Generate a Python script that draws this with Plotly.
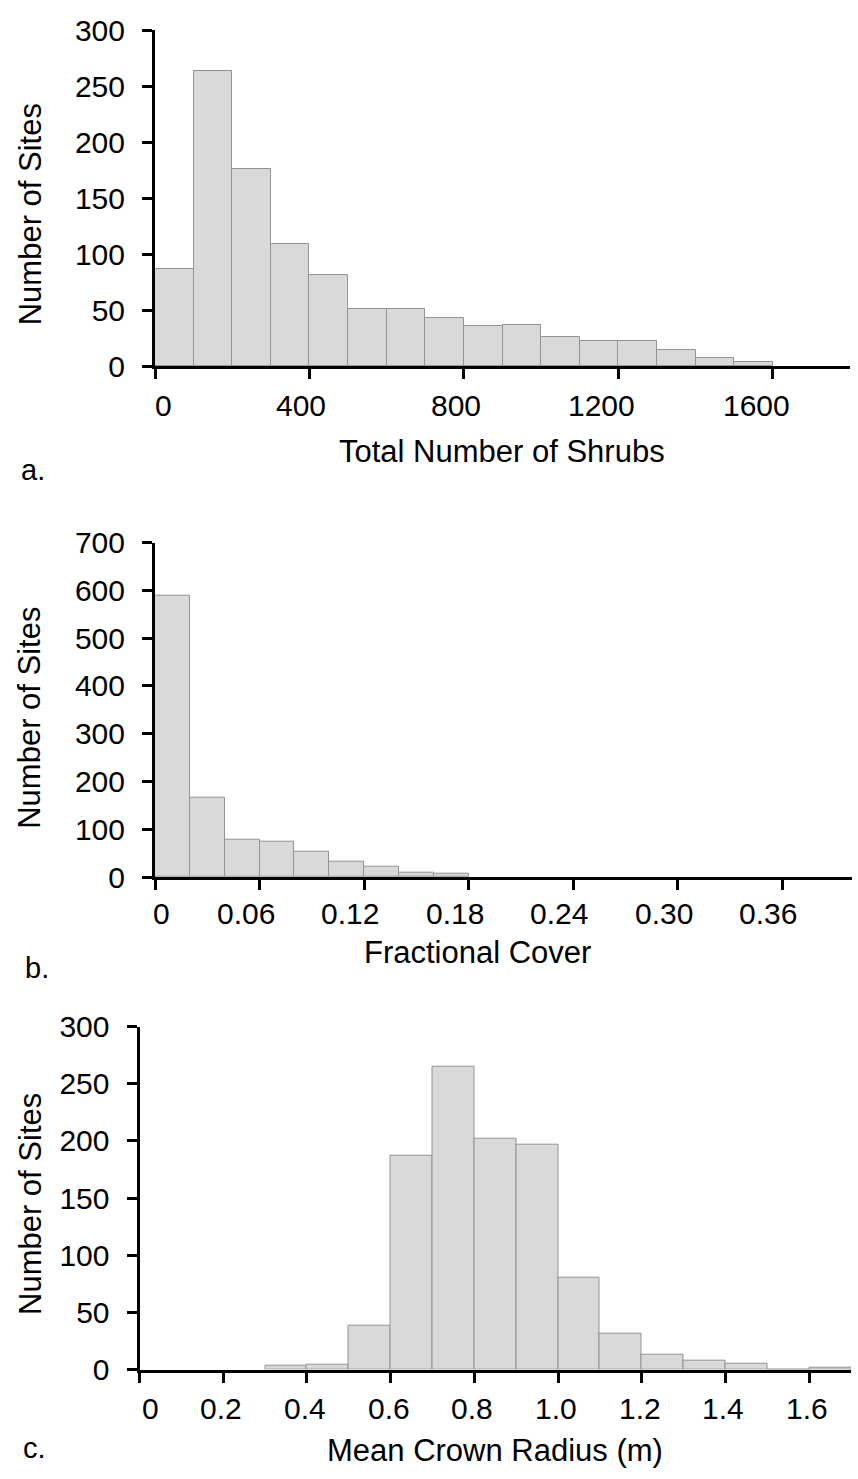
import numpy as np
import plotly.graph_objects as go

W, H = 858, 1479

# ---------------- data ----------------
# a. Total number of shrubs
shrub_bin_left = [0, 100, 200, 300, 400, 500, 600, 700, 800, 900, 1000, 1100, 1200, 1300, 1400, 1500]
shrub_bin_width = 100
shrub_counts = [87, 263, 176, 109, 81, 51, 51, 43, 36, 37, 26, 22, 22, 14, 7, 4]
shrub_ticks = [0, 400, 800, 1200, 1600]
shrub_tick_labels = ["0", "400", "800", "1200", "1600"]
sites_ticks_a = [0, 50, 100, 150, 200, 250, 300]

# b. Fractional cover
cover_bin_left = [0.00, 0.02, 0.04, 0.06, 0.08, 0.10, 0.12, 0.14, 0.16]
cover_bin_width = 0.02
cover_counts = [588, 167, 79, 74, 54, 33, 22, 8, 7]
cover_ticks = [0, 0.06, 0.12, 0.18, 0.24, 0.30, 0.36]
cover_tick_labels = ["0", "0.06", "0.12", "0.18", "0.24", "0.30", "0.36"]
sites_ticks_b = [0, 100, 200, 300, 400, 500, 600, 700]

# c. Mean crown radius
radius_bin_left = [0.3, 0.4, 0.5, 0.6, 0.7, 0.8, 0.9, 1.0, 1.1, 1.2, 1.3, 1.4, 1.5, 1.6]
radius_bin_width = 0.1
radius_counts = [3, 4, 38, 187, 265, 202, 197, 80, 31, 13, 8, 5, 0, 2]
radius_ticks = [0, 0.2, 0.4, 0.6, 0.8, 1.0, 1.2, 1.4, 1.6]
radius_tick_labels = ["0", "0.2", "0.4", "0.6", "0.8", "1.0", "1.2", "1.4", "1.6"]
sites_ticks_c = [0, 50, 100, 150, 200, 250, 300]

x_titles = ["Total Number of Shrubs", "Fractional Cover", "Mean Crown Radius (m)"]
y_title = "Number of Sites"
panel_labels = ["a.", "b.", "c."]

# ---------------- style ----------------
FONT = "Liberation Sans, Arial, sans-serif"
TICK_FS = 30
TITLE_FS = 31
LABEL_FS = 29
BAR_FILL = "#d9d9d9"
BAR_EDGE = "#939393"


def px_x(p):
    return p / W


def px_y(p):
    return 1 - p / H


panels = [
    dict(left=shrub_bin_left, width=shrub_bin_width, counts=shrub_counts,
         xr=[0, 1800], yr=[0, 300], xt=shrub_ticks, xl=shrub_tick_labels, yt=sites_ticks_a,
         dom_x=(155, 850), dom_y=(30, 366), lab_top=387.9, lab_shift=18,
         xt_pos=(501.5, 451.0), yt_pos=(30.3, 214), pl_pos=(33.3, 470)),
    dict(left=cover_bin_left, width=cover_bin_width, counts=cover_counts,
         xr=[0, 0.40], yr=[0, 700], xt=cover_ticks, xl=cover_tick_labels, yt=sites_ticks_b,
         dom_x=(155, 852), dom_y=(542.7, 877), lab_top=896.2, lab_shift=16,
         xt_pos=(477.5, 952.3), yt_pos=(29.3, 717.5), pl_pos=(36.7, 968)),
    dict(left=radius_bin_left, width=radius_bin_width, counts=radius_counts,
         xr=[0, 1.7], yr=[0, 300], xt=radius_ticks, xl=radius_tick_labels, yt=sites_ticks_c,
         dom_x=(139.5, 851), dom_y=(1026.7, 1369.5), lab_top=1391.2, lab_shift=20,
         xt_pos=(495, 1450.7), yt_pos=(30.0, 1204), pl_pos=(34, 1448)),
]

fig = go.Figure()
layout = dict(
    template="none",
    width=W, height=H, margin=dict(l=0, r=0, t=0, b=0, pad=0, autoexpand=False),
    paper_bgcolor="white", plot_bgcolor="white", showlegend=False,
    font=dict(family=FONT, color="black"),
)
annotations = []

for i, p in enumerate(panels, start=1):
    xa = "x" if i == 1 else f"x{i}"
    ya = "y" if i == 1 else f"y{i}"
    centers = np.array(p["left"], dtype=float) + p["width"] / 2
    fig.add_trace(go.Bar(
        x=centers, y=p["counts"], width=p["width"],
        marker=dict(color=BAR_FILL, line=dict(color=BAR_EDGE, width=1)),
        xaxis=xa, yaxis=ya, hoverinfo="x+y",
    ))
    layout["xaxis" if i == 1 else f"xaxis{i}"] = dict(
        domain=[px_x(p["dom_x"][0]), px_x(p["dom_x"][1])],
        anchor=ya, range=p["xr"], tickvals=p["xt"], showticklabels=False,
        ticks="outside", ticklen=10, tickwidth=3, tickcolor="black",
        showline=True, linewidth=3, linecolor="black", automargin=False,
        showgrid=False, zeroline=False, fixedrange=True,
    )
    layout["yaxis" if i == 1 else f"yaxis{i}"] = dict(
        domain=[px_y(p["dom_y"][1]), px_y(p["dom_y"][0])],
        anchor=xa, range=p["yr"], tickvals=p["yt"],
        ticks="outside", ticklen=10, tickwidth=3, tickcolor="black",
        tickfont=dict(family=FONT, size=TICK_FS, color="black"),
        ticklabelstandoff=11, automargin=False,
        showline=True, linewidth=3, linecolor="black",
        showgrid=False, zeroline=False, fixedrange=True,
    )
    # x tick labels (right-aligned just past each tick, as in the original)
    for v, lab in zip(p["xt"], p["xl"]):
        annotations.append(dict(
            x=v, xref=xa, y=px_y(p["lab_top"]), yref="paper", text=lab,
            xanchor="right", yanchor="top", xshift=p["lab_shift"], borderpad=0,
            showarrow=False, font=dict(family=FONT, size=TICK_FS, color="black"),
        ))
    # x title
    annotations.append(dict(
        x=px_x(p["xt_pos"][0]), y=px_y(p["xt_pos"][1]), xref="paper", yref="paper",
        text=x_titles[i - 1], xanchor="center", yanchor="middle", showarrow=False,
        borderpad=0, font=dict(family=FONT, size=TITLE_FS, color="black"),
    ))
    # y title
    annotations.append(dict(
        x=px_x(p["yt_pos"][0]), y=px_y(p["yt_pos"][1]), xref="paper", yref="paper",
        text=y_title, textangle=-90, xanchor="center", yanchor="middle", showarrow=False,
        borderpad=0, font=dict(family=FONT, size=TITLE_FS, color="black"),
    ))
    # panel label
    annotations.append(dict(
        x=px_x(p["pl_pos"][0]), y=px_y(p["pl_pos"][1]), xref="paper", yref="paper",
        text=panel_labels[i - 1], xanchor="center", yanchor="middle", showarrow=False,
        borderpad=0, font=dict(family=FONT, size=LABEL_FS, color="black"),
    ))

layout["annotations"] = annotations
layout["bargap"] = 0
fig.update_layout(**layout)
fig.write_html("out.html", config={"displayModeBar": False})
